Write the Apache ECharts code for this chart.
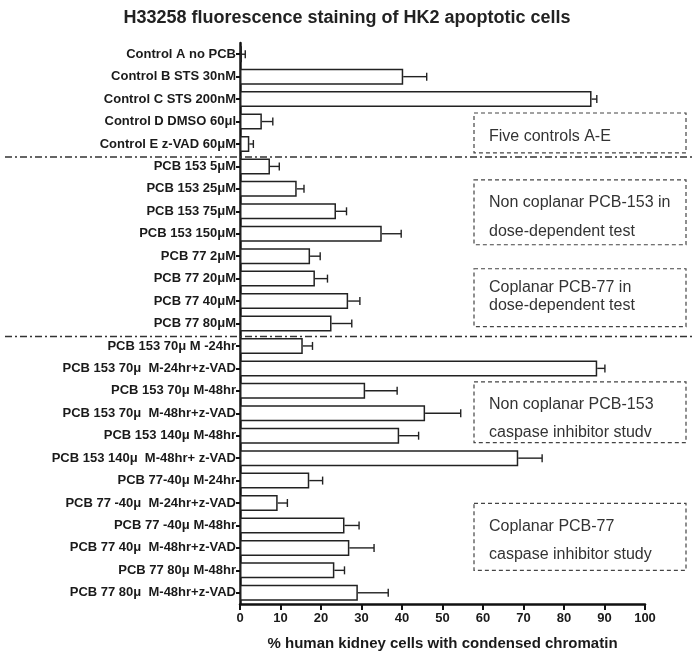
<!DOCTYPE html>
<html>
<head>
<meta charset="utf-8">
<script src="https://cdn.jsdelivr.net/npm/echarts@6/dist/echarts.min.js"></script>
<style>
  html, body { margin: 0; padding: 0; background: #fff; }
  #chart { width: 695px; height: 659px; }
</style>
</head>
<body>
<div id="chart"></div>
<script>
var categories = [
  'Control A no PCB', 'Control B STS 30nM', 'Control C STS 200nM', 'Control D DMSO 60μl', 'Control E z-VAD 60μM',
  'PCB 153 5μM', 'PCB 153 25μM', 'PCB 153 75μM', 'PCB 153 150μM',
  'PCB 77 2μM', 'PCB 77 20μM', 'PCB 77 40μM', 'PCB 77 80μM',
  'PCB 153 70μ M -24hr', 'PCB 153 70μ  M-24hr+z-VAD', 'PCB 153 70μ M-48hr', 'PCB 153 70μ  M-48hr+z-VAD',
  'PCB 153 140μ M-48hr', 'PCB 153 140μ  M-48hr+ z-VAD',
  'PCB 77-40μ M-24hr', 'PCB 77 -40μ  M-24hr+z-VAD', 'PCB 77 -40μ M-48hr', 'PCB 77 40μ  M-48hr+z-VAD',
  'PCB 77 80μ M-48hr', 'PCB 77 80μ  M-48hr+z-VAD'
];

var values = [0.5, 40.3, 86.8, 5.4, 2.3,
  7.4, 14.0, 23.7, 35.0,
  17.3, 18.5, 26.7, 22.6,
  15.5, 88.2, 30.9, 45.7, 39.3, 68.7,
  17.1, 9.3, 25.8, 27.0, 23.3, 29.1];
var errors = [0.8, 5.8, 1.3, 2.7, 1.0,
  2.3, 1.8, 2.6, 4.8,
  2.5, 3.1, 2.9, 5.0,
  2.4, 1.9, 7.9, 8.8, 4.8, 5.9,
  3.3, 2.4, 3.6, 6.1, 2.5, 7.5];

// dashed annotation boxes, in category units (row index, fractions between rows)
var boxes = [
  { from: 2.62, to: 4.4, lines: ['Five controls A-E'], at: [3.69] },
  { from: 5.6, to: 8.49, lines: ['Non coplanar PCB-153 in', 'dose-dependent test'], at: [6.62, 7.9] },
  { from: 9.56, to: 12.14, lines: ['Coplanar PCB-77 in', 'dose-dependent test'], at: [10.41, 11.21] },
  { from: 14.6, to: 17.31, lines: ['Non coplanar PCB-153', 'caspase inhibitor studv'], at: [15.62, 16.85] },
  { from: 20.02, to: 23.0, lines: ['Coplanar PCB-77', 'caspase inhibitor study'], at: [21.05, 22.3] }
];
var separators = [4.58, 12.58];

var chart = echarts.init(document.getElementById('chart'));
var font = 'Liberation Sans, Arial, sans-serif';

chart.setOption({
  animation: false,
  title: {
    text: 'H33258 fluorescence staining of HK2 apoptotic cells',
    left: 342, top: 4, textAlign: 'center',
    textStyle: { fontFamily: font, fontWeight: 'bold', fontSize: 18, color: '#222' }
  },
  grid: { left: 240, right: 50, top: 43, bottom: 55 },
  xAxis: {
    type: 'value', min: 0, max: 100, interval: 10,
    name: '% human kidney cells with condensed chromatin',
    nameLocation: 'middle', nameGap: 32,
    nameTextStyle: { fontFamily: font, fontWeight: 'bold', fontSize: 15, color: '#1a1a1a' },
    axisLine: { show: true, lineStyle: { color: '#111', width: 2.5 } },
    axisTick: { show: true, length: 6, lineStyle: { color: '#111', width: 2 } },
    axisLabel: { fontFamily: font, fontWeight: 'bold', fontSize: 13, color: '#1a1a1a', margin: 8 },
    splitLine: { show: false }
  },
  yAxis: {
    type: 'category', data: categories, inverse: true,
    axisLine: { show: true, lineStyle: { color: '#111', width: 2.5 } },
    axisTick: { show: true, alignWithLabel: true, length: 4, lineStyle: { color: '#111', width: 2 } },
    axisLabel: { fontFamily: font, fontWeight: 'bold', fontSize: 13, color: '#1a1a1a', margin: 4 }
  },
  series: [
    {
      type: 'bar', data: values, barWidth: 16,
      itemStyle: { color: '#fff', borderColor: '#222', borderWidth: 1.5 }
    },
    {
      type: 'custom',
      data: values.map(function (v, i) { return [i, v, errors[i]]; }),
      renderItem: function (params, api) {
        var i = api.value(0), v = api.value(1), e = api.value(2);
        var p0 = api.coord([v, i]);
        var p1 = api.coord([v + e, i]);
        return {
          type: 'group',
          children: [
            { type: 'line', shape: { x1: p0[0], y1: p0[1], x2: p1[0], y2: p1[1] }, style: { stroke: '#222', lineWidth: 1.4 } },
            { type: 'line', shape: { x1: p1[0], y1: p1[1] - 4, x2: p1[0], y2: p1[1] + 4 }, style: { stroke: '#222', lineWidth: 1.4 } }
          ]
        };
      },
      z: 3
    }
  ]
});

// pixel y of a (possibly fractional) row index
function rowY(idx) {
  var a = chart.convertToPixel({ yAxisIndex: 0 }, 0);
  var b = chart.convertToPixel({ yAxisIndex: 0 }, 1);
  return a + idx * (b - a);
}

var graphics = [];
separators.forEach(function (s) {
  var y = rowY(s);
  graphics.push({
    type: 'line', shape: { x1: 5, y1: y, x2: 692, y2: y },
    style: { stroke: '#333', lineWidth: 1.3, lineDash: [7, 3, 2, 3] }, z: 10
  });
});
boxes.forEach(function (b) {
  var y0 = rowY(b.from), y1 = rowY(b.to);
  graphics.push({
    type: 'rect', shape: { x: 474, y: y0, width: 212, height: y1 - y0 },
    style: { fill: '#fff', stroke: '#444', lineWidth: 1.2, lineDash: [4, 3] }, z: 10
  });
  b.lines.forEach(function (t, k) {
    graphics.push({
      type: 'text', x: 489, y: rowY(b.at[k]), z: 11,
      style: { text: t, fontFamily: font, fontSize: 16, fill: '#333', verticalAlign: 'middle' }
    });
  });
});
chart.setOption({ graphic: graphics });
</script>
</body>
</html>
